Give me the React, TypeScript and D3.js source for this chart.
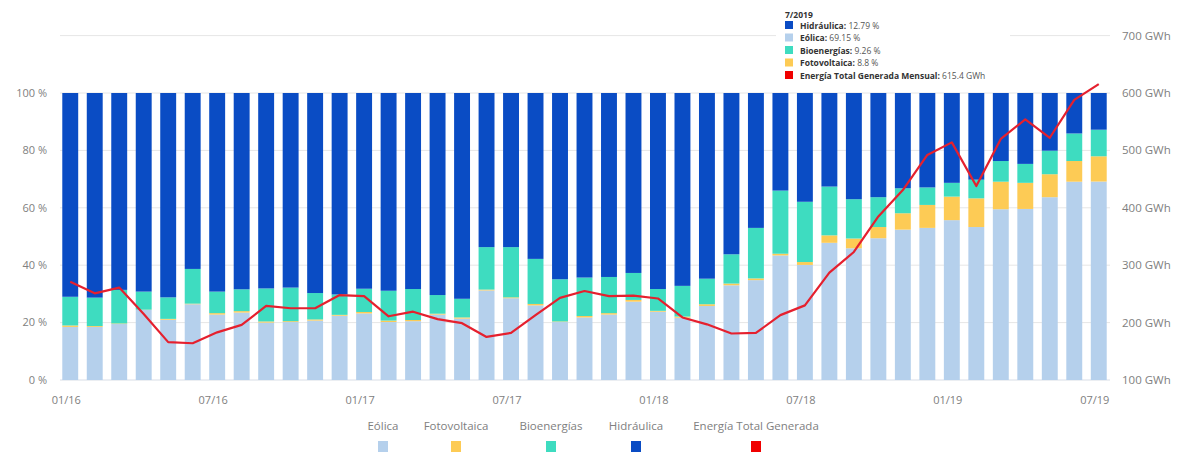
import React from 'react';
import * as d3 from 'd3';

const months = [
  '01/16', '02/16', '03/16', '04/16', '05/16', '06/16', '07/16', '08/16', '09/16', '10/16', '11/16', '12/16',
  '01/17', '02/17', '03/17', '04/17', '05/17', '06/17', '07/17', '08/17', '09/17', '10/17', '11/17', '12/17',
  '01/18', '02/18', '03/18', '04/18', '05/18', '06/18', '07/18', '08/18', '09/18', '10/18', '11/18', '12/18',
  '01/19', '02/19', '03/19', '04/19', '05/19', '06/19', '07/19',
];

// % de la generación mensual
const eolica = [
  18.5, 18.5, 19.5, 24.4, 21.0, 26.4, 22.8, 23.5, 20.0, 20.2, 20.7, 22.4,
  23.2, 20.2, 20.5, 22.8, 21.4, 31.2, 28.5, 26.0, 20.2, 21.8, 22.8, 27.3,
  23.8, 21.7, 25.8, 33.0, 34.8, 43.4, 40.1, 47.8, 45.9, 49.4, 52.4, 53.0,
  55.7, 53.3, 59.5, 59.6, 63.7, 69.1, 69.15,
];
const fotovoltaica = [
  0.5, 0.3, 0.2, 0.1, 0.3, 0.2, 0.5, 0.5, 0.4, 0.3, 0.4, 0.3,
  0.5, 0.5, 0.4, 0.3, 0.4, 0.3, 0.3, 0.5, 0.2, 0.5, 0.5, 0.6,
  0.3, 0.4, 0.6, 0.6, 0.6, 0.6, 1.0, 2.6, 3.4, 3.9, 5.7, 8.0,
  8.2, 10.0, 9.6, 9.1, 8.0, 7.2, 8.8,
];
const bioenergias = [
  10.0, 9.9, 11.7, 6.3, 7.5, 12.1, 7.5, 7.6, 11.5, 11.7, 9.2, 7.1,
  8.1, 10.4, 10.8, 6.5, 6.5, 14.8, 17.5, 15.7, 14.7, 13.4, 12.6, 9.4,
  7.6, 10.7, 8.9, 10.2, 17.6, 22.0, 21.0, 17.0, 13.7, 10.4, 8.7, 6.1,
  4.8, 6.5, 7.2, 6.6, 8.2, 9.6, 9.26,
];
const hidraulica = [
  71.0, 71.3, 68.6, 69.2, 71.2, 61.3, 69.2, 68.4, 68.1, 67.8, 69.7, 70.2,
  68.2, 68.9, 68.3, 70.4, 71.7, 53.7, 53.7, 57.8, 64.9, 64.3, 64.1, 62.7,
  68.3, 67.2, 64.7, 56.2, 47.0, 34.0, 37.9, 32.6, 37.0, 36.3, 33.2, 32.9,
  31.3, 30.2, 23.7, 24.7, 20.1, 14.1, 12.79,
];
// GWh
const energiaTotal = [
  271, 251, 261, 215, 166, 164, 183, 196, 229, 225, 225, 248,
  246, 211, 219, 206, 199, 175, 182, 213, 243, 255, 246, 247,
  242, 209, 197, 181, 182, 213, 230, 287, 323, 385, 431, 492,
  514, 438, 520, 554, 522, 588, 615.4,
];

const xTickLabels = ['01/16', '07/16', '01/17', '07/17', '01/18', '07/18', '01/19', '07/19'];
const pctTicks = [0, 20, 40, 60, 80, 100];
const gwhTicks = [100, 200, 300, 400, 500, 600, 700];

const series = ['Eólica', 'Fotovoltaica', 'Bioenergías', 'Hidráulica'];
const colors: Record<string, string> = {
  'Eólica': '#b5d0ec',
  'Fotovoltaica': '#fdcb55',
  'Bioenergías': '#3edcc0',
  'Hidráulica': '#0a4cc4',
  'Energía Total Generada': '#f00000',
};
const lineColor = '#e5202e';

const W = 1177;
const H = 452;
const font = '"Open Sans", "Segoe UI", sans-serif';

export default function App() {
  const rows = months.map((m, i) => ({
    month: m,
    'Eólica': eolica[i],
    'Fotovoltaica': fotovoltaica[i],
    'Bioenergías': bioenergias[i],
    'Hidráulica': hidraulica[i],
  }));

  const x = d3.scaleBand<string>().domain(months).range([58, 1111]).paddingInner(0.35).paddingOuter(0.175);
  const yPct = d3.scaleLinear().domain([0, 1]).range([380, 93]);
  const yGwh = d3.scaleLinear().domain([100, 600]).range([380, 93]);

  const stacked = d3.stack<any>().keys(series).offset(d3.stackOffsetExpand)(rows);

  const line = d3
    .line<number>()
    .x((_, i) => (x(months[i]) as number) + x.bandwidth() / 2)
    .y((d) => yGwh(d));

  const gridX0 = 60;
  const gridX1 = 1110;

  const legendItems = [
    { name: 'Eólica', cx: 383 },
    { name: 'Fotovoltaica', cx: 456 },
    { name: 'Bioenergías', cx: 551 },
    { name: 'Hidráulica', cx: 636 },
    { name: 'Energía Total Generada', cx: 756 },
  ];

  const last = months.length - 1;
  const tipRows = [
    { name: 'Hidráulica', value: `${hidraulica[last]} %` },
    { name: 'Eólica', value: `${eolica[last]} %` },
    { name: 'Bioenergías', value: `${bioenergias[last]} %` },
    { name: 'Fotovoltaica', value: `${fotovoltaica[last]} %` },
    { name: 'Energía Total Generada Mensual', value: `${energiaTotal[last]} GWh`, color: colors['Energía Total Generada'] },
  ];

  return (
    <svg width={W} height={H} style={{ position: 'absolute', left: 0, top: 0, background: '#fff' }} fontFamily={font}>
      {/* gridlines */}
      {gwhTicks.map((t) => (
        <line key={t} x1={gridX0} x2={gridX1} y1={yGwh(t)} y2={yGwh(t)} stroke={t === 100 ? '#d8dde6' : '#e6e6e6'} strokeWidth={1} />
      ))}

      {/* bars */}
      {stacked.map((s) => (
        <g key={s.key} fill={colors[s.key]}>
          {s.map((d, i) => (
            <rect
              key={i}
              x={x(months[i])}
              y={yPct(d[1])}
              width={x.bandwidth()}
              height={Math.max(0, yPct(d[0]) - yPct(d[1]))}
            />
          ))}
        </g>
      ))}

      {/* total energy line */}
      <path d={line(energiaTotal) || ''} fill="none" stroke={lineColor} strokeWidth={2.2} strokeLinejoin="round" />

      {/* left axis */}
      {pctTicks.map((t) => (
        <text key={t} x={47} y={yPct(t / 100)} dy="0.35em" textAnchor="end" fontSize={11} fill="#808080">
          {`${t} %`}
        </text>
      ))}

      {/* right axis */}
      {gwhTicks.map((t) => (
        <text key={t} x={1122} y={yGwh(t)} dy="0.35em" textAnchor="start" fontSize={11.5} fill="#808080">
          {`${t} GWh`}
        </text>
      ))}

      {/* x axis labels */}
      {xTickLabels.map((m) => (
        <text key={m} x={(x(m) as number) + x.bandwidth() / 2 - 4} y={400} dy="0.35em" textAnchor="middle" fontSize={11} fill="#808080">
          {m}
        </text>
      ))}

      {/* legend */}
      {legendItems.map((l) => (
        <g key={l.name}>
          <text x={l.cx} y={430} textAnchor="middle" fontSize={11.5} fill="#808080">
            {l.name}
          </text>
          <rect x={l.cx - 5} y={441} width={10} height={12} fill={colors[l.name]} />
        </g>
      ))}

      {/* tooltip */}
      <g>
        <rect x={776} y={3} width={234} height={80} fill="#fff" />
        <text x={785} y={18} fontSize={8.5} fontWeight="bold" fill="#333">
          7/2019
        </text>
        {tipRows.map((r, i) => (
          <g key={r.name} transform={`translate(785,${21 + i * 12.5})`}>
            <rect x={0} y={0} width={8} height={8} fill={r.color || colors[r.name]} />
            <text x={15} y={7.5} fontSize={8.5} fill="#555">
              <tspan fontWeight="bold" fill="#333">{`${r.name}: `}</tspan>
              <tspan>{r.value}</tspan>
            </text>
          </g>
        ))}
      </g>
    </svg>
  );
}
